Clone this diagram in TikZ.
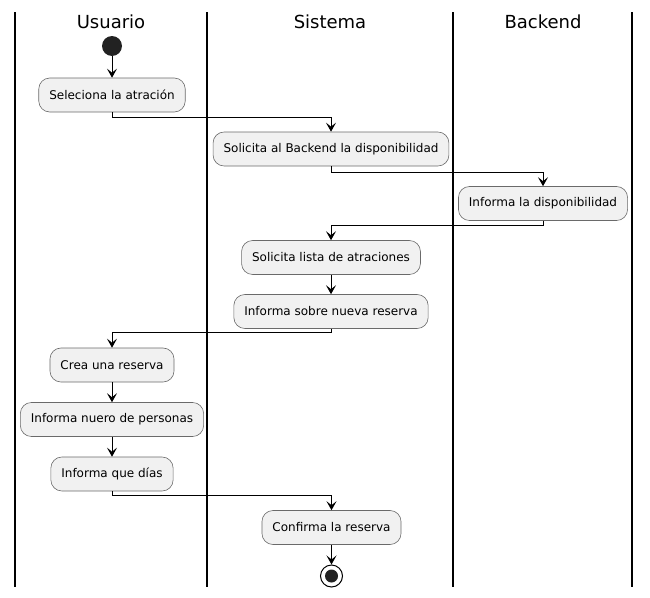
\documentclass[tikz,border=0pt]{standalone}
\usepackage{fontspec}
\setmainfont{DejaVu Sans}
\usetikzlibrary{arrows.meta}
\definecolor{actfill}{HTML}{F1F1F1}
\definecolor{actline}{HTML}{6A6A6A}
\definecolor{dotfill}{HTML}{222222}
\begin{document}
\begin{tikzpicture}[x=1pt,y=-1pt,
  lane/.style={line width=1.5pt,black},
  lanetitle/.style={font=\fontsize{18}{21}\selectfont,inner sep=0pt},
  activity/.style={draw=actline,fill=actfill,line width=0.6pt,rounded corners=11pt,
    minimum height=34pt,inner xsep=10.5pt,inner ysep=0pt,
    font=\fontsize{12}{14}\selectfont},
  flow/.style={line width=1pt,black,-{Stealth[length=9pt,width=10pt,inset=4pt]}},
  startdot/.style={circle,fill=dotfill,minimum size=20pt,inner sep=0pt},
  enddot/.style={circle,draw=black,line width=1pt,fill=white,minimum size=22pt,inner sep=0pt,
    path picture={\fill[dotfill] (path picture bounding box.center) circle (6.5pt);}}]
\useasboundingbox (0,0) rectangle (650,597);
% swimlane separators
\draw[lane] (15,12) -- (15,587);
\draw[lane] (207,12) -- (207,587);
\draw[lane] (453,12) -- (453,587);
\draw[lane] (632,12) -- (632,587);
% swimlane titles
\node[lanetitle] (tusr) at (111,22) {Usuario};
\node[lanetitle] (tsis) at (330,22) {Sistema};
\node[lanetitle] (tbck) at (543,22) {Backend};
% activities
\node[startdot] (start) at (112,46) {};
\node[activity] (a1) at (112,95) {Seleciona la atración};
\node[activity] (a2) at (331,149) {Solicita al Backend la disponibilidad};
\node[activity] (a3) at (543,203.5) {Informa la disponibilidad};
\node[activity] (a4) at (331,257.5) {Solicita lista de atraciones};
\node[activity] (a5) at (331,311.5) {Informa sobre nueva reserva};
\node[activity] (a6) at (112,365) {Crea una reserva};
\node[activity] (a7) at (112,419.5) {Informa nuero de personas};
\node[activity] (a8) at (112,474) {Informa que días};
\node[activity] (a9) at (331.5,527.5) {Confirma la reserva};
\node[enddot] (stop) at (331.5,576) {};
% control flow
\draw[flow] (start) -- (a1);
\draw[flow] (a1.south) -- ++(0,5) -| (a2.north);
\draw[flow] (a2.south) -- ++(0,6) -| (a3.north);
\draw[flow] (a3.south) -- ++(0,5) -| (a4.north);
\draw[flow] (a4) -- (a5);
\draw[flow] (a5.south) -- ++(0,4) -| (a6.north);
\draw[flow] (a6) -- (a7);
\draw[flow] (a7) -- (a8);
\draw[flow] (a8.south) -- ++(0,4) -| (a9.north);
\draw[flow] (a9) -- (stop);
\end{tikzpicture}
\end{document}
